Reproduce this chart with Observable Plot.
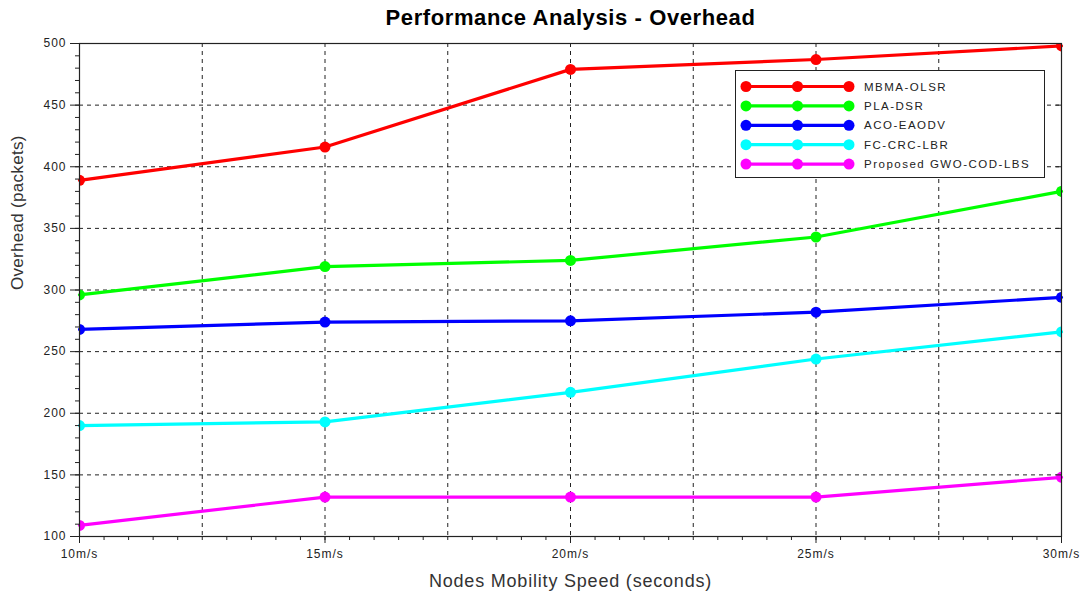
<!DOCTYPE html>
<html><head><meta charset="utf-8">
<script src="https://cdn.jsdelivr.net/npm/d3@7"></script>
<script src="https://cdn.jsdelivr.net/npm/@observablehq/plot@0.6"></script>
<style>
body{margin:0;background:#fff;font-family:"Liberation Sans",Arial,sans-serif}
#wrap{position:relative;width:1086px;height:596px}
#legend{position:absolute;left:735px;top:70px;width:310px;height:108px;border:1px solid #222;background:#fff;box-sizing:border-box}
#legend svg{display:block}
.xt text{letter-spacing:1px}
.yt text{letter-spacing:1px}
</style></head><body>
<div id="wrap"></div>
<script>
const speeds = [10, 15, 20, 25, 30];
const speedLabels = ["10m/s", "15m/s", "20m/s", "25m/s", "30m/s"];
const seriesNames = ["MBMA-OLSR", "PLA-DSR", "ACO-EAODV", "FC-CRC-LBR", "Proposed GWO-COD-LBS"];
const seriesColors = ["#ff0000", "#00ff00", "#0000ff", "#00ffff", "#ff00ff"];
const mbmaOlsr = [389, 416, 479, 487, 498];
const plaDsr = [296, 319, 324, 343, 380];
const acoEaodv = [268, 274, 275, 282, 294];
const fcCrcLbr = [190, 193, 217, 244, 266];
const gwoCodLbs = [109, 132, 132, 132, 148];
const yTicks = [100, 150, 200, 250, 300, 350, 400, 450, 500];

const allValues = [mbmaOlsr, plaDsr, acoEaodv, fcCrcLbr, gwoCodLbs];
const data = seriesNames.flatMap((name, i) => speeds.map((s, j) => ({series: name, speed: s, value: allValues[i][j]})));

const font = "Liberation Sans, Arial, sans-serif";
const chart = Plot.plot({
  width: 1086, height: 596,
  marginLeft: 79, marginRight: 25, marginTop: 43, marginBottom: 60,
  style: {fontFamily: font, fontSize: "12px", background: "white", color: "#222"},
  x: {domain: [10, 30]},
  y: {domain: [100, 500]},
  color: {domain: seriesNames, range: seriesColors},
  marks: [
    Plot.gridX(d3.range(12.5, 30, 2.5), {stroke: "#222", strokeOpacity: 1, strokeDasharray: "4,4"}),
    Plot.gridY(yTicks.filter(d => d > 100 && d < 500), {stroke: "#222", strokeOpacity: 1, strokeDasharray: "4,4"}),
    Plot.line(data, {x: "speed", y: "value", stroke: "series", strokeWidth: 3.2}),
    Plot.dot(data, {x: "speed", y: "value", fill: "series", r: 5.5, clip: true}),
    Plot.frame({stroke: "#222", strokeWidth: 1.2}),
    Plot.axisX(d3.range(10, 30.01, 0.5), {tickSize: 4, tickFormat: () => "", label: null}),
    Plot.axisX(speeds, {className: "xt", tickSize: 7, tickPadding: 6, fontSize: 12, tickFormat: d => speedLabels[speeds.indexOf(d)], label: null}),
    Plot.axisY(d3.range(100, 500.1, 10), {tickSize: 4, tickFormat: () => "", label: null}),
    Plot.axisY(yTicks, {className: "yt", tickSize: 9, tickPadding: 4, fontSize: 12, label: null}),
    Plot.axisY(yTicks.filter(d => d > 100 && d < 500), {anchor: "right", tickSize: 5, dx: -6, tickFormat: () => "", label: null}),
    Plot.text(["Performance Analysis - Overhead"], {frameAnchor: "top", lineAnchor: "middle", dy: -26, fontSize: 22, fontWeight: "bold", fill: "#000", className: "ttl"}),
    Plot.text(["Nodes Mobility Speed (seconds)"], {frameAnchor: "bottom", lineAnchor: "middle", dy: 45, fontSize: 18, fill: "#333", className: "xl"}),
    Plot.text(["Overhead (packets)"], {frameAnchor: "left", dx: -62, rotate: -90, fontSize: 17, fill: "#333", className: "yl"})
  ]
});
document.getElementById("wrap").appendChild(chart);
const st = document.createElement("style");
st.textContent = ".ttl text{letter-spacing:0.6px}.xl text{letter-spacing:0.8px}.yl text{letter-spacing:0.3px}";
document.head.appendChild(st);

// Legend
const legend = document.createElement("div");
legend.id = "legend";
const ns = "http://www.w3.org/2000/svg";
const lsvg = document.createElementNS(ns, "svg");
lsvg.setAttribute("width", 308); lsvg.setAttribute("height", 106);
seriesNames.forEach((name, i) => {
  const y = 15.5 + i * 19.4;
  const c = seriesColors[i];
  const line = document.createElementNS(ns, "line");
  line.setAttribute("x1", 10); line.setAttribute("x2", 113);
  line.setAttribute("y1", y); line.setAttribute("y2", y);
  line.setAttribute("stroke", c); line.setAttribute("stroke-width", 3.2);
  lsvg.appendChild(line);
  [10, 61.5, 113].forEach(x => {
    const dot = document.createElementNS(ns, "circle");
    dot.setAttribute("cx", x); dot.setAttribute("cy", y); dot.setAttribute("r", 5.5);
    dot.setAttribute("fill", c);
    lsvg.appendChild(dot);
  });
  const t = document.createElementNS(ns, "text");
  t.setAttribute("x", 128); t.setAttribute("y", y + 4);
  t.setAttribute("font-size", 11.5); t.setAttribute("font-family", font);
  t.setAttribute("letter-spacing", "1.5"); t.setAttribute("fill", "#222");
  t.textContent = name;
  lsvg.appendChild(t);
});
legend.appendChild(lsvg);
document.getElementById("wrap").appendChild(legend);
</script>
</body></html>
